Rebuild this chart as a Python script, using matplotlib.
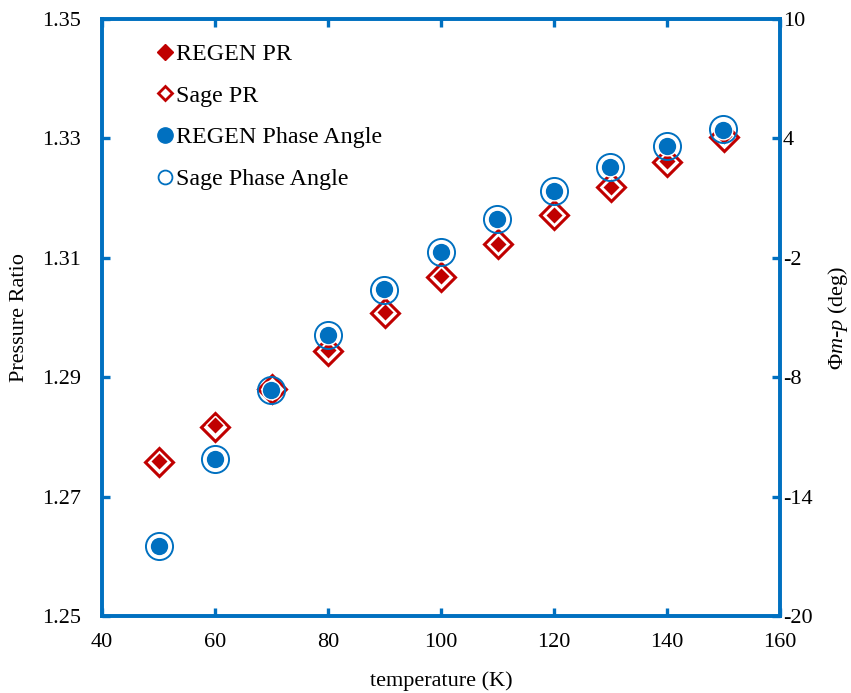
import matplotlib
matplotlib.use("Agg")
import matplotlib.pyplot as plt
from matplotlib.lines import Line2D

plt.rcParams['font.family'] = ['Liberation Serif', 'DejaVu Serif']
plt.rcParams['mathtext.fontset'] = 'custom'
plt.rcParams['mathtext.rm'] = 'Liberation Serif'
plt.rcParams['mathtext.it'] = 'Liberation Serif:italic'

temperature = [50, 60, 70, 80, 90, 100, 110, 120, 130, 140, 150]
regen_pr = [1.2760, 1.2820, 1.2880, 1.2946, 1.3009, 1.3070, 1.3123, 1.3172, 1.3219, 1.3262, 1.3304]
sage_pr = [1.2758, 1.2816, 1.2880, 1.2944, 1.3008, 1.3068, 1.3123, 1.3172, 1.3218, 1.3261, 1.3302]
regen_phase = [-16.48, -12.11, -8.64, -5.88, -3.57, -1.71, -0.05, 1.36, 2.56, 3.62, 4.42]
sage_phase = [-16.48, -12.11, -8.64, -5.88, -3.60, -1.71, -0.05, 1.34, 2.56, 3.62, 4.45]

left_ticks = [1.25, 1.27, 1.29, 1.31, 1.33, 1.35]
right_ticks = [-20, -14, -8, -2, 4, 10]
x_ticks = [40, 60, 80, 100, 120, 140, 160]

RED = '#C00000'
BLUE = '#0070C0'

fig = plt.figure(figsize=(8.51, 6.93), dpi=100)
ax = fig.add_axes([102/851, 1 - 616/693, (780-102)/851, (616-19)/693])
ax2 = ax.twinx()

ax.plot(temperature, sage_pr, linestyle='none', marker='D', markersize=14.2,
        markerfacecolor='white', markeredgecolor=RED, markeredgewidth=2.2, zorder=3)
ax.plot(temperature, regen_pr, linestyle='none', marker='D', markersize=9.2,
        markerfacecolor=RED, markeredgecolor='white', markeredgewidth=1.0, zorder=4)

ax2.plot(temperature, sage_phase, linestyle='none', marker='o', markersize=19.5,
         markerfacecolor='none', markeredgecolor=BLUE, markeredgewidth=1.4, zorder=3)
ax2.plot(temperature, regen_phase, linestyle='none', marker='o', markersize=13.5,
         markerfacecolor=BLUE, markeredgecolor='white', markeredgewidth=1.0, zorder=4)

ax.set_xlim(40, 160)
ax.set_ylim(1.25, 1.35)
ax2.set_ylim(-20, 10)
ax.set_xticks(x_ticks)
ax.set_xticklabels([str(v) for v in x_ticks])
ax.set_yticks(left_ticks)
ax.set_yticklabels([f'{v:.2f}' for v in left_ticks])
ax2.set_yticks(right_ticks)
ax2.set_yticklabels([str(v) for v in right_ticks])

for a in (ax, ax2):
    for s in a.spines.values():
        s.set_color(BLUE)
        s.set_linewidth(2.6)
    a.tick_params(direction='in', color=BLUE, width=2.4, length=6, labelsize=16,
                  labelcolor='black')
ax.tick_params(axis='x', top=True, pad=12)
ax.tick_params(axis='y', pad=15)
ax2.tick_params(axis='y', pad=2)

ax.set_xlabel('temperature (K)', fontsize=16, labelpad=14)
ax.set_ylabel('Pressure Ratio', fontsize=16, rotation=90, va='center', ha='center')
ax.yaxis.set_label_coords((20 - 102) / 678, 0.5)
ax2.set_ylabel(r'$\mathit{\Phi m}$-$\mathit{p}$ (deg)', fontsize=16, rotation=90,
               va='center', ha='center')
ax2.yaxis.set_label_coords((838 - 102) / 678, 0.5)

handles = [
    Line2D([], [], linestyle='none', marker='D', markersize=8, markerfacecolor=RED,
           markeredgecolor=RED),
    Line2D([], [], linestyle='none', marker='D', markersize=7, markerfacecolor='white',
           markeredgecolor=RED, markeredgewidth=2),
    Line2D([], [], linestyle='none', marker='o', markersize=11, markerfacecolor=BLUE,
           markeredgecolor=BLUE),
    Line2D([], [], linestyle='none', marker='o', markersize=10, markerfacecolor='white',
           markeredgecolor=BLUE, markeredgewidth=1.3),
]
labels = ['REGEN PR', 'Sage PR', 'REGEN Phase Angle', 'Sage Phase Angle']
ax2.legend(handles, labels, loc='upper left', bbox_to_anchor=(0.068, 0.975),
           frameon=False, fontsize=17.3, handlelength=0.6, handletextpad=0.15,
           labelspacing=0.82, borderaxespad=0)

fig.savefig('out.png', dpi=100)
